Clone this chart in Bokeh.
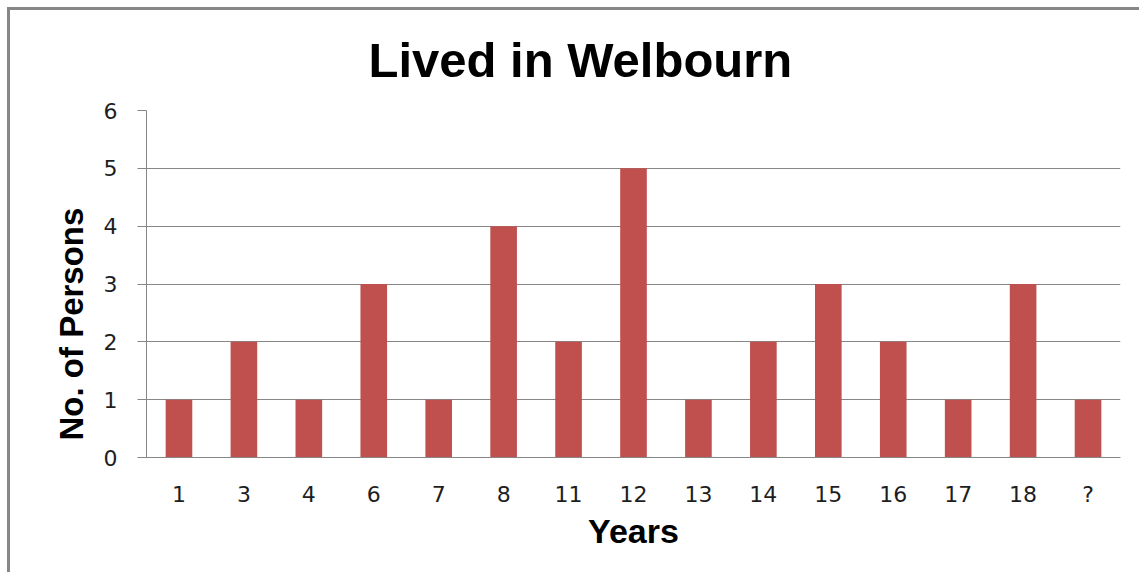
from bokeh.plotting import figure
from bokeh.models import ColumnDataSource, FactorRange, Range1d, FixedTicker, Title
from bokeh.embed import file_html
from bokeh.resources import INLINE

years = ["1", "3", "4", "6", "7", "8", "11", "12", "13", "14", "15", "16", "17", "18", "?"]
persons = [1, 2, 1, 3, 1, 4, 2, 5, 1, 2, 3, 2, 1, 3, 1]
y_ticks = [0, 1, 2, 3, 4, 5, 6]
title_text = "Lived in Welbourn"
x_title = "Years"
y_title = "No. of Persons"

GRID = "#878787"
BAR = "#C0504D"
TXT = "#1e1e1e"

W, H = 1132, 565
p = figure(
    x_range=FactorRange(*years, range_padding=0),
    y_range=Range1d(0, 6),
    width=W, height=H,
    output_backend="svg", toolbar_location=None,
    min_border_left=136, min_border_right=22,
    min_border_top=100, min_border_bottom=118,
)
p.styles = {"border-left": "3px solid #878787", "border-top": "3px solid #878787",
            "margin-left": "7px", "margin-top": "7px"}
p.outline_line_color = None
p.background_fill_color = "white"
p.border_fill_color = "white"

src = ColumnDataSource(dict(years=years, persons=persons))
p.vbar(x="years", top="persons", width=0.41, source=src, fill_color=BAR, line_color=None)

p.xgrid.grid_line_color = None
p.ygrid.grid_line_color = GRID
p.ygrid.grid_line_width = 1
p.yaxis.ticker = FixedTicker(ticks=y_ticks)

for ax in (p.xaxis[0], p.yaxis[0]):
    ax.axis_line_color = GRID
    ax.axis_line_width = 1
    ax.major_tick_line_color = GRID
    ax.minor_tick_line_color = None
    ax.major_label_text_font = "DejaVu Sans"
    ax.major_label_text_font_size = "22px"
    ax.major_label_text_color = TXT

p.yaxis.major_tick_out = 9
p.yaxis.major_tick_in = 0
p.yaxis.major_label_standoff = 20
p.xaxis.major_tick_out = 0
p.xaxis.major_tick_in = 0
p.xaxis.major_label_standoff = 24

p.xaxis.axis_label = x_title
p.xaxis.axis_label_text_font = "Liberation Sans"
p.xaxis.axis_label_text_font_style = "bold"
p.xaxis.axis_label_text_font_size = "34px"
p.xaxis.axis_label_text_color = "black"
p.xaxis.axis_label_standoff = 2

p.add_layout(Title(text=title_text, align="left", offset=222, vertical_align="top",
                   text_font="Liberation Sans", text_font_style="bold",
                   text_font_size="49px", text_color="black", standoff=44), "above")
p.add_layout(Title(text=y_title, align="left", offset=17,
                   text_font="Liberation Sans", text_font_style="bold",
                   text_font_size="33px", text_color="black", standoff=22), "left")

open("out.html", "w").write(file_html(p, INLINE))
